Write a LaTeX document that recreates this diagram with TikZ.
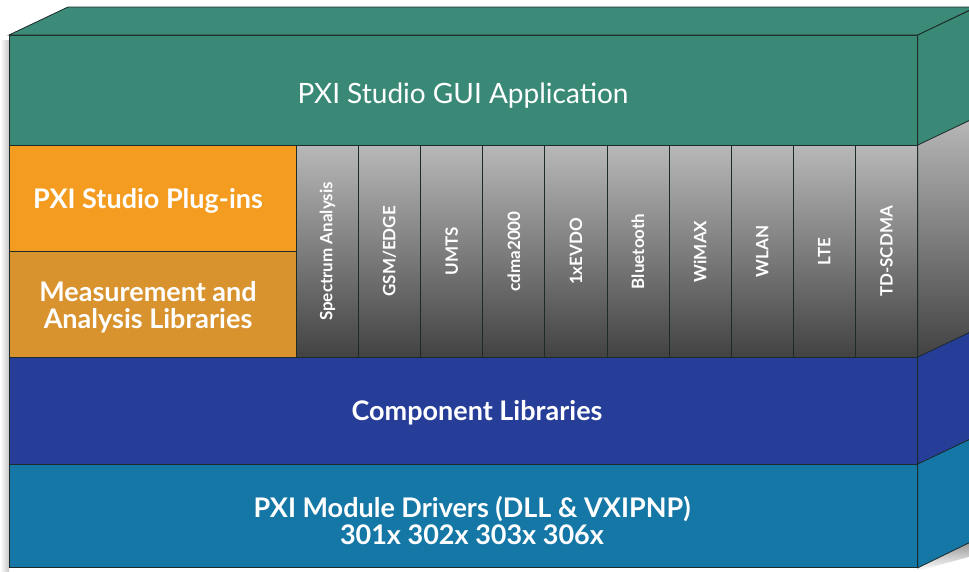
\documentclass[tikz,border=0pt]{standalone}
\usepackage{fontspec}
\setmainfont{Lato}
\usetikzlibrary{positioning}

\definecolor{appgreen}{HTML}{3A8977}
\definecolor{topgreen}{HTML}{3C8B78}
\definecolor{plugorange}{HTML}{F49C20}
\definecolor{measorange}{HTML}{D8922E}
\definecolor{compblue}{HTML}{263E98}
\definecolor{drvblue}{HTML}{1577A6}
\definecolor{colgraytop}{HTML}{B8B8B8}
\definecolor{colgraybot}{HTML}{424242}
\definecolor{edgeline}{HTML}{1C2A2A}

\def\depth{++(59,-28)}

\begin{document}
\begin{tikzpicture}[x=1pt,y=-1pt,
    face/.style={draw=edgeline, line width=0.8pt, inner sep=0pt, anchor=north west},
    side/.style={draw=edgeline, line width=0.8pt},
    band/.style={text=white, font=\fontsize{27}{27}\selectfont\bfseries, align=center},
    column/.style={face, minimum width=62.1pt, minimum height=212pt,
                   top color=colgraytop, bottom color=colgraybot},
    tech/.style={text=white, rotate=90, font=\fontsize{17}{17}\selectfont\bfseries}]
    \useasboundingbox (0,0) rectangle (969,571);

    % soft shadows round the block
    \shade[left color=white, right color=black!22] (0,40) rectangle (9,571);
    \shade[top color=black!45, bottom color=white] (917,567) -- (976,539) -- (976,555) -- (917,571) -- cycle;

    % front faces
    \node[face, fill=appgreen, minimum width=908pt, minimum height=110pt] (gui) at (9,35) {};
    \node[face, fill=plugorange, minimum width=287pt, minimum height=106pt] (plug) at (9,145) {};
    \node[face, fill=measorange, minimum width=287pt, minimum height=106pt] (meas) at (9,251) {};
    \node[face, fill=compblue, minimum width=908pt, minimum height=107pt] (comp) at (9,357) {};
    \node[face, fill=drvblue, minimum width=908pt, minimum height=103pt] (drv) at (9,464) {};

    % one column per plug-in
    \foreach \name [count=\i from 0] in {Spectrum Analysis, GSM/EDGE, UMTS, cdma2000, 1xEVDO,
                                         Bluetooth, WiMAX, WLAN, LTE, TD-SCDMA} {
      \node[column] (col\i) at (296+62.1*\i,145) {};
      \node[tech] (tech\i) at (col\i.center) {\name};
    }

    % top and right faces
    \filldraw[side, fill=topgreen] (gui.north west) -- \depth -- ++(908,0) -- (gui.north east) -- cycle;
    \filldraw[side, fill=appgreen] (gui.north east) -- \depth -- ++(0,110) -- (gui.south east) -- cycle;
    \shadedraw[side, top color=colgraytop, bottom color=colgraybot]
        (col9.north east) -- \depth -- ++(0,212) -- (col9.south east) -- cycle;
    \filldraw[side, fill=compblue] (comp.north east) -- \depth -- ++(0,107) -- (comp.south east) -- cycle;
    \filldraw[side, fill=drvblue] (drv.north east) -- \depth -- ++(0,103) -- (drv.south east) -- cycle;

    % labels
    \node[band, font=\fontsize{28}{28}\selectfont] (guitext) at (463,96) {PXI Studio GUI Application};
    \node[band] (plugtext) at (148,201) {PXI Studio Plug-ins};
    \node[band] (meastext) at (148,307) {Measurement and\\Analysis Libraries};
    \node[band] (comptext) at (477,413) {Component Libraries};
    \node[band] (drvtext) at (472,521) {PXI Module Drivers (DLL \& VXIPNP)\\301x 302x 303x 306x};
\end{tikzpicture}
\end{document}
